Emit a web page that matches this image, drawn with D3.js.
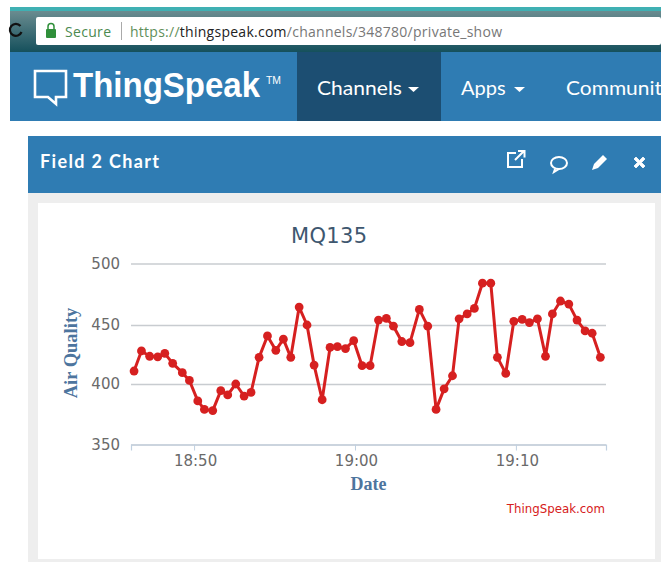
<!DOCTYPE html>
<html><head><meta charset="utf-8">
<script src="https://cdn.jsdelivr.net/npm/d3@7"></script>
<style>html,body{margin:0;padding:0;background:#fff;overflow:hidden}svg{display:block}</style>
</head><body><svg id="c" width="661" height="562"></svg>
<script>
// minutes relative to 18:50
const minutes=[-3.73,-3.27,-2.76,-2.26,-1.82,-1.33,-0.73,-0.29,0.23,0.64,1.16,1.66,2.09,2.59,3.11,3.54,4.04,4.56,5.08,5.55,6.01,6.53,7.02,7.46,7.96,8.45,8.91,9.41,9.92,10.44,10.94,11.46,11.95,12.39,12.91,13.42,14.00,14.52,15.04,15.54,16.06,16.47,16.97,17.42,17.92,18.44,18.85,19.37,19.87,20.39,20.84,21.34,21.84,22.27,22.77,23.29,23.80,24.30,24.74,25.25];
const airQuality=[411,428,423.5,423,426,417.5,409.6,403,386,379,378,394.5,391,400,390,393,422.6,440.7,428.5,438,422.6,464.6,450,416,387,431,431.6,430,436.7,415.5,415.5,454,455.4,449,436,435,462.7,449,379,396,407,455,459,463.5,484,484,422.6,409,453,454.5,452,455,423.5,459,469.5,467,454,445,443,422.6];
const yTicks=[350,400,450,500];
const xTickMinutes=[0,10,20];
const xTickLabels=["18:50","19:00","19:10"];
const title="MQ135", xTitle="Date", yTitle="Air Quality", credit="ThingSpeak.com", panelTitle="Field 2 Chart";
const navItems=["Channels","Apps","Communit"];
const urlParts=[["https://","#5f8f5a"],["thingspeak.com","#222"],["/channels/348780/private_show","#777"]];

const svg=d3.select("#c");
const ui='"Lato","Open Sans",sans-serif';
const rect=(x,y,w,h,f)=>svg.append("rect").attr("x",x).attr("y",y).attr("width",w).attr("height",h).attr("fill",f);
const text=(x,y,s,size,fill,font,weight)=>svg.append("text").attr("x",x).attr("y",y).text(s).attr("font-size",size).attr("fill",fill).attr("font-family",font||ui).attr("font-weight",weight||"normal");

// browser chrome
const defs=svg.append("defs");
const g=defs.append("linearGradient").attr("id","chrome").attr("x1",0).attr("x2",0).attr("y1",0).attr("y2",1);
g.append("stop").attr("offset",0).attr("stop-color","#6a8c90");
g.append("stop").attr("offset",1).attr("stop-color","#15505c");
rect(10,7,651,4,"#3fb0b3");
rect(10,11,651,41,"url(#chrome)");
svg.append("path").attr("d","M20.5 26a6 6 0 1 0 1 6").attr("fill","none").attr("stroke","#111").attr("stroke-width",2.2);
rect(36,17,625,28,"#fff").attr("rx",2);
rect(46,29,10,9,"#2f8f3a").attr("rx",1);
svg.append("path").attr("d","M48 29v-2.5a3 3 0 0 1 6 0V29").attr("fill","none").attr("stroke","#2f8f3a").attr("stroke-width",1.5);
text(65,37,"Secure",14,"#4b8a50",'"Open Sans",sans-serif').attr("textLength",46);
rect(121,22,1,18,"#aaa");
let ut=svg.append("text").attr("x",130).attr("y",37).attr("font-size",14).attr("font-family",'"Open Sans",sans-serif').attr("textLength",372);
urlParts.forEach(p=>ut.append("tspan").text(p[0]).attr("fill",p[1]));

// nav bar
rect(10,52,651,69,"#2f7cb3");
rect(297,52,144,69,"#1c4e72");
svg.append("path").attr("d","M35 71H66V97H56V104L48 97H35Z").attr("fill","none").attr("stroke","#fff").attr("stroke-width",2.6);
text(0,0,"ThingSpeak",33,"#fff",'"Liberation Sans",sans-serif',"bold").attr("transform","translate(73,97) scale(1,1.06)");
text(266,84,"TM",10,"#fff",'"Liberation Sans",sans-serif',"normal").attr("textLength",15).attr("lengthAdjust","spacingAndGlyphs");
text(317,95,navItems[0],20,"#fff").attr("textLength",85).attr("lengthAdjust","spacingAndGlyphs");
text(461,95,navItems[1],20,"#fff");
text(566,95,navItems[2],20,"#fff").attr("textLength",96).attr("lengthAdjust","spacingAndGlyphs");
[[408,419],[514,525]].forEach(([a,b])=>svg.append("path").attr("d",`M${a} 87H${b}L${(a+b)/2} 92Z`).attr("fill","#fff"));

// panel
rect(28,136,633,57,"#2f7cb3");
rect(28,193,633,369,"#eeeeee");
rect(38,203,617,356,"#ffffff");
text(40,168,panelTitle,18,"#fff",ui,"bold").attr("textLength",119);
const ic=svg.append("g").attr("fill","none").attr("stroke","#fff").attr("stroke-width",2);
ic.append("path").attr("d","M522 159v8h-14v-14h8M515 160l9-9M518 151h6.5v6.5");
ic.append("ellipse").attr("cx",559).attr("cy",163).attr("rx",8).attr("ry",6);
ic.append("path").attr("d","M555 169l-1 3 5-3");
svg.append("path").attr("d","M592 170l2-6 9-9 4 4-9 9z").attr("fill","#fff");
svg.append("path").attr("d","M634 158l2-2 3.5 3.5 3.5-3.5 2 2-3.5 3.5 3.5 3.5-2 2-3.5-3.5-3.5 3.5-2-2 3.5-3.5z").attr("fill","#fff").attr("stroke","#fff").attr("stroke-width",0.8).attr("transform","translate(0,1)");

// chart
const t0=new Date(2017,9,1,18,50);
const tm=m=>new Date(+t0+m*60000);
const x=d3.scaleTime().domain([tm(-3.92),tm(25.6)]).range([131,606]);
const y=d3.scaleLinear().domain([350,400,450,500]).range([444.5,384,325,263.5]);

const gy=svg.append("g").attr("transform","translate(131,0)").call(d3.axisLeft(y).tickValues(yTicks).tickSize(-475).tickPadding(11).tickFormat(d3.format("d")));
gy.select(".domain").remove();
gy.selectAll("line").attr("stroke","#c8ccd0").attr("stroke-width",1.6);
gy.selectAll("text").attr("font-size",15).attr("fill","#6a6a6a").attr("font-family",'"DejaVu Sans",sans-serif');

const gx=svg.append("g").attr("transform","translate(0,444.5)").call(d3.axisBottom(x).tickValues(xTickMinutes.map(tm)).tickSize(6).tickPadding(5).tickFormat((d,i)=>xTickLabels[i]));
gx.select(".domain").attr("stroke","#c0d0e0").attr("stroke-width",1.2);
gx.selectAll("line").attr("stroke","#c0d0e0");
gx.selectAll("text").attr("font-size",15).attr("fill","#6a6a6a").attr("font-family",'"DejaVu Sans",sans-serif').attr("dx",1);

const pts=minutes.map((m,i)=>[tm(m),airQuality[i]]);
svg.append("path").datum(pts).attr("fill","none").attr("stroke","#d62020").attr("stroke-width",3).attr("stroke-linejoin","round")
  .attr("d",d3.line().x(d=>x(d[0])).y(d=>y(d[1])));
svg.append("g").selectAll("circle").data(pts).join("circle").attr("cx",d=>x(d[0])).attr("cy",d=>y(d[1])).attr("r",4.4).attr("fill","#d62020");

text(329,243,title,21,"#3e576f",'"DejaVu Sans",sans-serif').attr("text-anchor","middle").attr("textLength",76);
text(368.5,490,xTitle,18,"#4d759e",'"Liberation Serif",serif',"bold").attr("text-anchor","middle");
text(0,0,yTitle,18.5,"#4d759e",'"Liberation Serif",serif',"bold").attr("text-anchor","middle").attr("transform","translate(77,353) rotate(-90)");
text(605,513,credit,11.8,"#d62020",'"DejaVu Sans",sans-serif').attr("text-anchor","end");
</script></body></html>
